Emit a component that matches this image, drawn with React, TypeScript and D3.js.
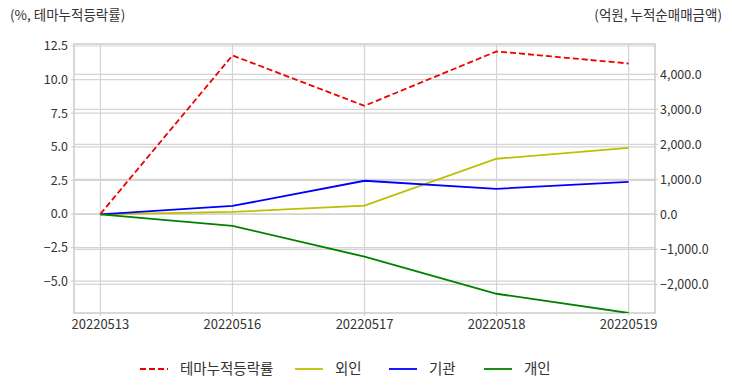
import React, { useRef, useEffect } from 'react';
import * as d3 from 'd3';

const dates = ['20220513', '20220516', '20220517', '20220518', '20220519'];
const themeRate = [0, 11.8, 8.05, 12.1, 11.2];
const foreign = [0, 70, 250, 1590, 1900];
const institution = [0, 240, 960, 730, 930];
const individual = [0, -330, -1210, -2270, -2820];

const leftTicks = [-5, -2.5, 0, 2.5, 5, 7.5, 10, 12.5];
const rightTicks = [-2000, -1000, 0, 1000, 2000, 3000, 4000];

const FONT = '"Noto Sans CJK KR", "Noto Sans", sans-serif';

const seriesRight = [
  { name: '외인', values: foreign, color: '#bfbf00' },
  { name: '기관', values: institution, color: '#0000ff' },
  { name: '개인', values: individual, color: '#008000' },
];

const App: React.FC = () => {
  const svgRef = useRef<SVGSVGElement>(null);

  useEffect(() => {
    if (!svgRef.current) return;
    const svg = d3.select(svgRef.current);
    svg.selectAll('*').remove();

    const left = 74;
    const right = 655;
    const top = 44;
    const bottom = 313;

    const x = d3
      .scalePoint<string>()
      .domain(dates)
      .range([left, right])
      .padding(0.2);

    const yL = d3.scaleLinear().domain([-7.37, 12.65]).range([bottom, top]);
    const yR = d3.scaleLinear().domain([-2820, 4870]).range([bottom, top]);

    const grid = '#d4d4d4';
    const textColor = '#333';

    // grid lines
    const g = svg.append('g');
    dates.forEach((d) => {
      g.append('line')
        .attr('x1', x(d)!)
        .attr('x2', x(d)!)
        .attr('y1', top)
        .attr('y2', bottom + 3)
        .attr('stroke', grid)
        .attr('stroke-width', 1.2);
    });
    leftTicks.forEach((t) => {
      g.append('line')
        .attr('x1', left - 3)
        .attr('x2', right)
        .attr('y1', yL(t))
        .attr('y2', yL(t))
        .attr('stroke', grid)
        .attr('stroke-width', 1.2);
      g.append('text')
        .attr('x', left - 6)
        .attr('y', yL(t))
        .attr('dy', '0.35em')
        .attr('text-anchor', 'end')
        .attr('font-size', 12.5)
        .attr('fill', textColor)
        .text(d3.format('.1f')(t));
    });
    rightTicks.forEach((t) => {
      g.append('line')
        .attr('x1', left)
        .attr('x2', right + 3)
        .attr('y1', yR(t))
        .attr('y2', yR(t))
        .attr('stroke', grid)
        .attr('stroke-width', 1.2);
      g.append('text')
        .attr('x', right + 5)
        .attr('y', yR(t))
        .attr('dy', '0.35em')
        .attr('text-anchor', 'start')
        .attr('font-size', 12.5)
        .attr('fill', textColor)
        .text(d3.format(',.1f')(t));
    });

    // frame
    g.append('rect')
      .attr('x', left)
      .attr('y', top)
      .attr('width', right - left)
      .attr('height', bottom - top)
      .attr('fill', 'none')
      .attr('stroke', '#cccccc')
      .attr('stroke-width', 1.5);

    // x labels
    dates.forEach((d) => {
      g.append('text')
        .attr('x', x(d)!)
        .attr('y', bottom + 11)
        .attr('dy', '0.35em')
        .attr('text-anchor', 'middle')
        .attr('font-size', 13)
        .attr('fill', textColor)
        .text(d);
    });

    // axis titles
    svg
      .append('text')
      .attr('x', 10)
      .attr('y', 20)
      .attr('font-size', 13.5)
      .attr('fill', textColor)
      .text('(%, 테마누적등락률)');
    svg
      .append('text')
      .attr('x', 722)
      .attr('y', 20)
      .attr('text-anchor', 'end')
      .attr('font-size', 13.5)
      .attr('fill', textColor)
      .text('(억원, 누적순매매금액)');

    svg
      .append('clipPath')
      .attr('id', 'plot-clip')
      .append('rect')
      .attr('x', left)
      .attr('y', top - 2)
      .attr('width', right - left)
      .attr('height', bottom - top + 2);

    const lines = svg.append('g').attr('clip-path', 'url(#plot-clip)');

    const lineR = d3
      .line<number>()
      .x((_, i) => x(dates[i])!)
      .y((v) => yR(v));
    seriesRight.forEach((s) => {
      lines
        .append('path')
        .attr('d', lineR(s.values))
        .attr('fill', 'none')
        .attr('stroke', s.color)
        .attr('stroke-width', 1.8);
    });

    const lineL = d3
      .line<number>()
      .x((_, i) => x(dates[i])!)
      .y((v) => yL(v));
    lines
      .append('path')
      .attr('d', lineL(themeRate))
      .attr('fill', 'none')
      .attr('stroke', '#ee0000')
      .attr('stroke-width', 1.8)
      .attr('stroke-dasharray', '6,3');

    // legend
    const legendItems = [
      { name: '테마누적등락률', color: '#ee0000', dash: '6,3', x: 140 },
      { name: '외인', color: '#bfbf00', dash: null, x: 295 },
      { name: '기관', color: '#0000ff', dash: null, x: 389 },
      { name: '개인', color: '#008000', dash: null, x: 484 },
    ];
    const legend = svg.append('g');
    legendItems.forEach((it) => {
      legend
        .append('line')
        .attr('x1', it.x)
        .attr('x2', it.x + 28)
        .attr('y1', 369)
        .attr('y2', 369)
        .attr('stroke', it.color)
        .attr('stroke-width', 1.8)
        .attr('stroke-dasharray', it.dash ?? null);
      legend
        .append('text')
        .attr('x', it.x + 40)
        .attr('y', 369)
        .attr('dy', '0.35em')
        .attr('font-size', 14.5)
        .attr('fill', textColor)
        .text(it.name);
    });
  }, []);

  return (
    <svg
      ref={svgRef}
      width={732}
      height={392}
      style={{ position: 'absolute', left: 0, top: 0, fontFamily: FONT, background: '#fff' }}
    />
  );
};

export default App;
